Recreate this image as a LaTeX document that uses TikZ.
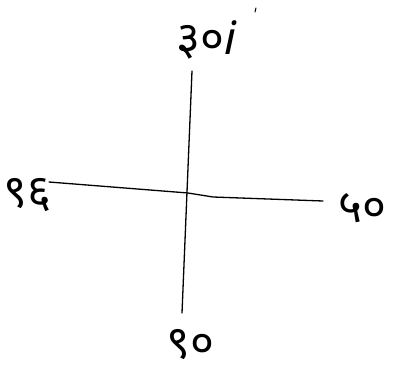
\documentclass[tikz,border=0pt]{standalone}
\usepackage{fontspec}
\newfontfamily\devfont[Script=Devanagari]{Noto Sans}
\usetikzlibrary{positioning}

\begin{document}
\begin{tikzpicture}[x=1pt, y=-1pt, line width=1.3pt, line cap=round,
    axislabel/.style={font=\devfont\fontsize{46}{50}\selectfont, inner sep=0pt}]
    \useasboundingbox (0,0) rectangle (407,377);

    % axis end points
    \coordinate (North) at (192,71);
    \coordinate (South) at (182,313);
    \coordinate (West) at (49,182);
    \coordinate (Centre) at (188,193);
    \coordinate (Bend) at (213,197);
    \coordinate (East) at (323,201);

    % the two axes
    \draw (North) -- (South);
    \draw (West) -- (Centre) -- (Bend) -- (East);

    % labels at the ends
    \node[axislabel] (lblnorth) at (207,40) {३०\textit{i}};
    \node[axislabel, anchor=west] (lblwest) at (3,195) {९६};
    \node[axislabel, anchor=west] (lbleast) at (338,208) {५०};
    \node[axislabel] (lblsouth) at (190,345) {९०};

    % small tick above the top label
    \draw[line width=1pt] (256,8) -- (255,12);

\end{tikzpicture}
\end{document}
